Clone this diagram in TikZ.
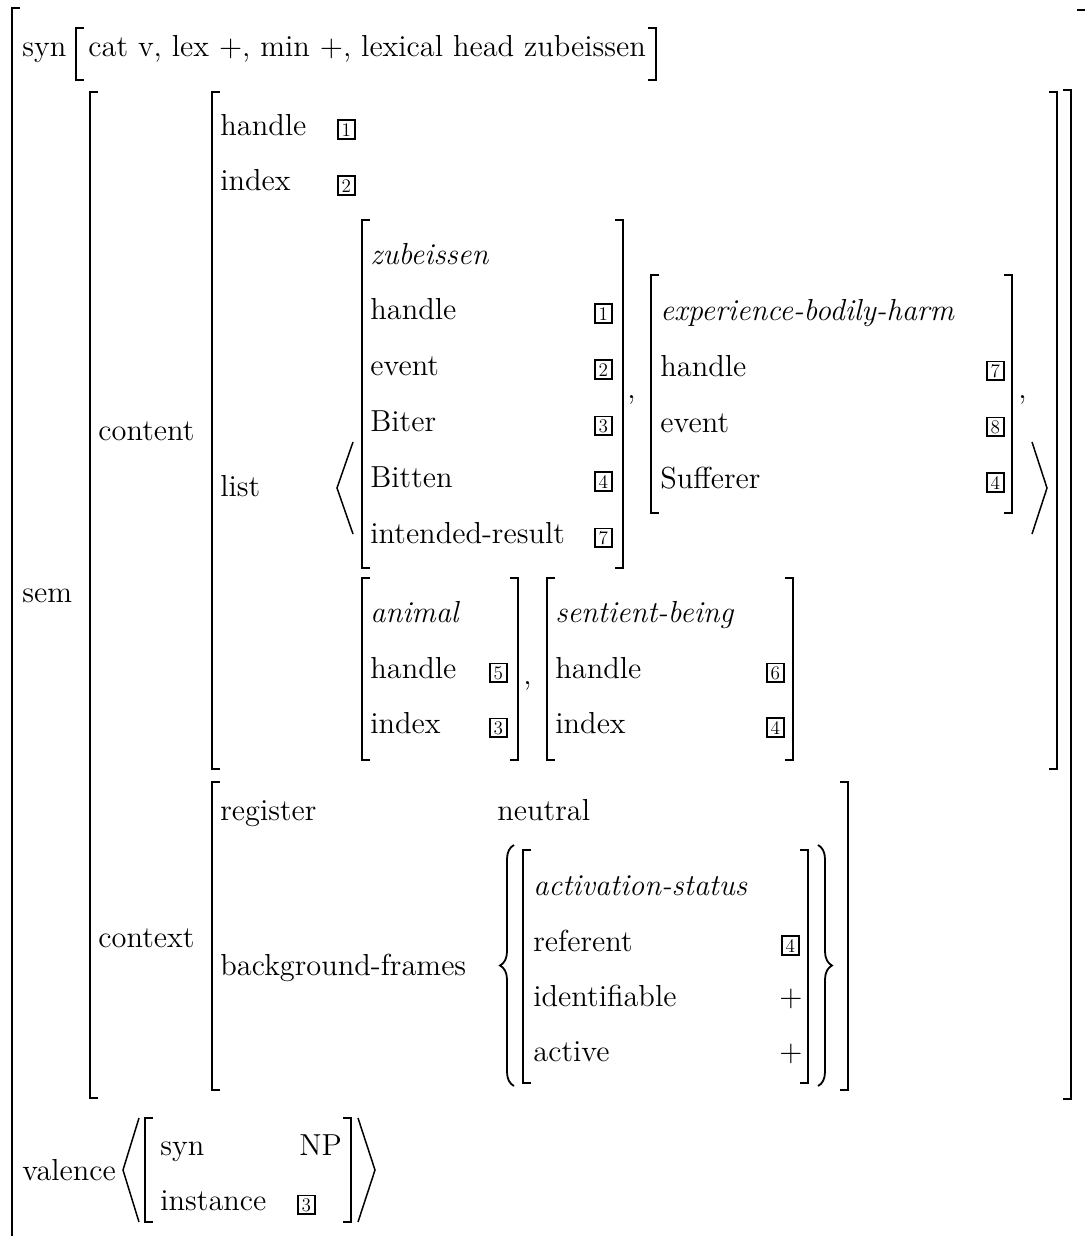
\documentclass[tikz,border=0pt]{standalone}
\usepackage{fontspec}
\setmainfont{lmroman12-regular.otf}[ItalicFont=lmroman12-italic.otf]
\usetikzlibrary{decorations.pathreplacing}

% bracket helpers: x, top y, bottom y
\newcommand{\lbrak}[3]{\draw[brak] ({#1+8},#2) -- (#1,#2) -- (#1,#3) -- ({#1+8},#3);}
\newcommand{\rbrak}[3]{\draw[brak] ({#1-8},#2) -- (#1,#2) -- (#1,#3) -- ({#1-8},#3);}

\begin{document}
\begin{tikzpicture}[
    x=0.5pt, y=-0.5pt,
    every node/.style={font=\fontsize{15.2}{18}\selectfont, inner sep=0pt},
    attr/.style={anchor=base west},
    typ/.style={anchor=base west, font=\fontsize{15.2}{18}\selectfont\itshape},
    tag/.style={draw, line width=0.75pt, inner sep=1pt, minimum width=8.6pt, minimum height=9.4pt, anchor=base west, font=\fontsize{9.6}{10}\selectfont},
    brak/.style={line width=1.1pt},
    angl/.style={line width=0.75pt},
    brace/.style={line width=0.9pt, decorate, decoration={brace, amplitude=7pt}}
]
\useasboundingbox (0,0) rectangle (1084,1236);

% Outer matrix
\draw[brak] (20,8) -- (12,8) -- (12,1250);
\draw[brak] (1077,10) -- (1086,10);

\node (syn) [attr] at (22,57) {syn};
\node (synval) [attr] at (88,57) {cat v, lex +, min +, lexical head zubeissen};
\lbrak{76}{28}{80}
\rbrak{656}{28}{80}

% sem
\node (sem) [attr] at (22,602) {sem};
\lbrak{90}{92}{1098}
\rbrak{1071}{90}{1099}

% content
\node (content) [attr] at (98,440) {content};
\lbrak{212}{92}{769}
\rbrak{1057}{92}{769}

\node (hdl) [attr] at (220,135) {handle};
\node (hdltag) [tag] at (337,136) {1};
\node (idx) [attr] at (220,191) {index};
\node (idxtag) [tag] at (337,192) {2};
\node (list) [attr] at (220,496) {list};

\draw[angl] (353,442) -- (337,488) -- (353,534);
\draw[angl] (1032,442) -- (1047,488) -- (1032,534);

% zubeissen
\lbrak{362}{220}{568}
\rbrak{623}{220}{568}
\node (zub) [typ] at (370,264) {zubeissen};
\node (zhdl) [attr] at (370,319) {handle};
\node (zhdltag) [tag] at (594,320) {1};
\node (zev) [attr] at (370,375) {event};
\node (zevtag) [tag] at (594,376) {2};
\node (zbiter) [attr] at (370,431) {Biter};
\node (zbitertag) [tag] at (594,432) {3};
\node (zbitten) [attr] at (370,487) {Bitten};
\node (zbittentag) [tag] at (594,488) {4};
\node (zint) [attr] at (370,543) {intended-result};
\node (zinttag) [tag] at (594,544) {7};
\node (comma1) [attr] at (627,398) {,};

% experience-bodily-harm
\lbrak{651}{275}{513}
\rbrak{1012}{275}{513}
\node (ebh) [typ] at (660,320) {experience-bodily-harm};
\node (ehdl) [attr] at (660,376) {handle};
\node (ehdltag) [tag] at (986,377) {7};
\node (eev) [attr] at (660,432) {event};
\node (eevtag) [tag] at (986,433) {8};
\node (esuf) [attr] at (660,488) {Sufferer};
\node (esuftag) [tag] at (986,489) {4};
\node (comma2) [attr] at (1018,398) {,};

% animal
\lbrak{362}{578}{760}
\rbrak{518}{578}{760}
\node (ani) [typ] at (370,622) {animal};
\node (ahdl) [attr] at (370,678) {handle};
\node (ahdltag) [tag] at (489,679) {5};
\node (aidx) [attr] at (370,733) {index};
\node (aidxtag) [tag] at (489,734) {3};
\node (comma3) [attr] at (523,684) {,};

% sentient-being
\lbrak{547}{578}{760}
\rbrak{793}{578}{760}
\node (sb) [typ] at (555,622) {sentient-being};
\node (shdl) [attr] at (555,678) {handle};
\node (shdltag) [tag] at (766,679) {6};
\node (sidx) [attr] at (555,733) {index};
\node (sidxtag) [tag] at (766,734) {4};

% context
\node (context) [attr] at (98,947) {context};
\lbrak{212}{782}{1090}
\rbrak{848}{782}{1090}
\node (reg) [attr] at (220,820) {register};
\node (neutral) [attr] at (497,820) {neutral};
\node (bgf) [attr] at (220,975) {background-frames};

\draw[brace] (514,1086) -- (514,845);
\draw[brace] (818,845) -- (818,1086);

% activation-status
\lbrak{523}{850}{1083}
\rbrak{808}{850}{1083}
\node (act) [typ] at (533,895) {activation-status};
\node (ref) [attr] at (533,951) {referent};
\node (reftag) [tag] at (781,952) {4};
\node (ident) [attr] at (533,1006) {identifiable};
\node (identval) [attr] at (779,1006) {+};
\node (actv) [attr] at (533,1061) {active};
\node (actvval) [attr] at (779,1061) {+};

% valence
\node (val) [attr] at (22,1180) {valence};
\draw[angl] (139,1118) -- (123,1170) -- (139,1222);
\draw[angl] (358,1118) -- (375,1170) -- (358,1222);
\lbrak{145}{1118}{1222}
\rbrak{351}{1118}{1222}
\node (vsyn) [attr] at (160,1155) {syn};
\node (vnp) [attr] at (299,1155) {NP};
\node (vinst) [attr] at (160,1210) {instance};
\node (vinsttag) [tag] at (297,1211) {3};

\end{tikzpicture}
\end{document}
